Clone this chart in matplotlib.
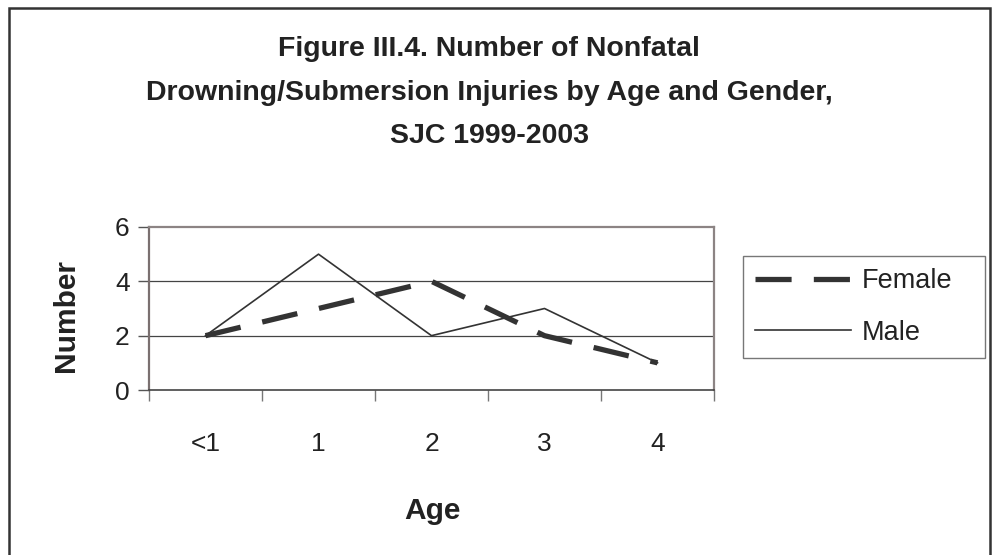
import matplotlib
matplotlib.use("Agg")
import matplotlib.pyplot as plt
from matplotlib.patches import Rectangle

plt.rcParams['font.family'] = ['Liberation Sans', 'DejaVu Sans']
plt.rcParams['lines.scale_dashes'] = False

categories = ['<1', '1', '2', '3', '4']
female = [2, 3, 4, 2, 1]
male = [2, 5, 2, 3, 1]
yticks = [0, 2, 4, 6]
title_lines = ["Figure III.4. Number of Nonfatal",
               "Drowning/Submersion Injuries by Age and Gender,",
               "SJC 1999-2003"]

W, H = 994, 555
fig = plt.figure(figsize=(W / 100, H / 100), dpi=100)
fig.patch.set_facecolor('white')

# outer border
fig.patches.append(Rectangle((9 / W, -0.05), (990 - 9) / W, 1 - 8 / H + 0.05,
                             transform=fig.transFigure, fill=False,
                             edgecolor='#333333', linewidth=1.8))

ax = fig.add_axes([149 / W, 1 - 390 / H, (714 - 149) / W, (390 - 227) / H])
x = list(range(len(categories)))
ink = '#333333'
ax.plot(x, female, color=ink, linewidth=3.8, dashes=(26, 16), label='Female',
        solid_capstyle='butt', dash_capstyle='butt')
ax.plot(x, male, color=ink, linewidth=1.2, label='Male')

ax.set_xlim(-0.5, len(categories) - 0.5)
ax.set_ylim(0, 6)
ax.set_yticks(yticks)
ax.set_yticklabels([str(v) for v in yticks], fontsize=19, color='#222222')
for v in yticks[1:-1]:
    ax.axhline(v, color='#444444', linewidth=0.9, zorder=0)

ax.set_xticks([i - 0.5 for i in range(len(categories) + 1)])
ax.set_xticklabels([])
ax.set_xticks(x, minor=True)
ax.set_xticklabels(categories, minor=True, fontsize=19, color='#222222')
ax.tick_params(axis='x', which='minor', length=0, pad=30)
ax.tick_params(axis='x', which='major', length=8, width=1, color='#777777', direction='out')
ax.tick_params(axis='y', length=8, width=1, color='#555555', pad=6)

for side in ['top', 'right']:
    ax.spines[side].set_color('#8c8484')
    ax.spines[side].set_linewidth(1.6)
ax.spines['left'].set_color('#7a7070')
ax.spines['left'].set_linewidth(1.6)
ax.spines['bottom'].set_color('#444444')
ax.spines['bottom'].set_linewidth(1.2)

fig.text(65.5 / W, 1 - 316 / H, 'Number', rotation=90, ha='center', va='center',
         fontsize=21.5, fontweight='bold', color='#222222')
fig.text(432 / W, 1 - 519 / H, 'Age', ha='center', va='baseline',
         fontsize=21.5, fontweight='bold', color='#222222')

baselines = [56, 100, 143]
for line, b in zip(title_lines, baselines):
    fig.text(489 / W, 1 - b / H, line, ha='center', va='baseline',
             fontweight='bold', color='#222222', fontsize=20.5)

leg = ax.legend(loc='upper left', bbox_to_anchor=(743 / W, 1 - 361 / H,
                (985 - 743) / W, (361 - 256) / H),
                bbox_transform=fig.transFigure, mode='expand',
                prop={'size': 19.5},
                frameon=True, fancybox=False, handlelength=3.55, borderaxespad=0,
                labelspacing=0.95, handletextpad=0.4, borderpad=0.45)
leg.get_frame().set_edgecolor('#555555')
leg.get_frame().set_linewidth(1.0)
for t in leg.get_texts():
    t.set_color('#222222')

fig.savefig('out.png', dpi=100, facecolor='white')
